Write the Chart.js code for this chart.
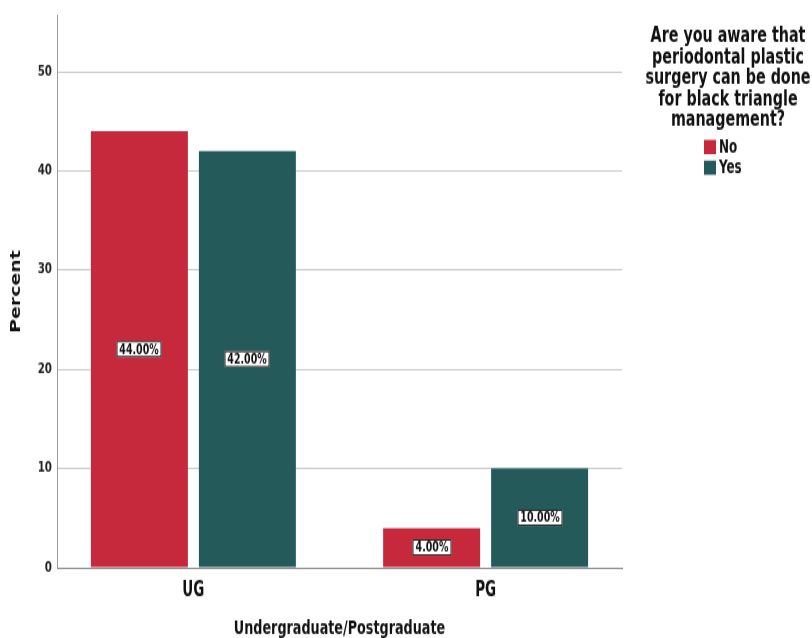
<!DOCTYPE html>
<html>
<head>
<meta charset="utf-8">
<script src="https://cdn.jsdelivr.net/npm/chart.js@4.4.0/dist/chart.umd.min.js"></script>
<style>
  html, body { margin: 0; padding: 0; background: #fff; }
  #wrap { width: 812px; height: 638px; }
  /* the chart is laid out at 812x472 and stretched to fill 638px of height */
  #chart { display: block; transform: scaleY(1.35169); transform-origin: 0 0; }
</style>
</head>
<body>
<div id="wrap"><canvas id="chart" width="812" height="472"></canvas></div>
<script>
// Awareness of periodontal plastic surgery, UG vs PG (percent)
const categories = ['UG', 'PG'];
const seriesNames = ['No', 'Yes'];
const noValues = [44.0, 4.0];
const yesValues = [42.0, 10.0];
const yTicks = [0, 10, 20, 30, 40, 50];
const legendTitle = ['Are you aware that', 'periodontal plastic', 'surgery can be done', 'for black triangle', 'management?'];

const RED = '#c6283c';
const TEAL = '#245a59';
const COND = "'DejaVu Sans Condensed', 'DejaVu Sans', sans-serif";
const SANS = "'DejaVu Sans', sans-serif";

// white boxed value labels in the middle of each bar
const barLabels = {
  id: 'barLabels',
  afterDatasetsDraw(chart) {
    const ctx = chart.ctx;
    ctx.save();
    ctx.font = `bold 10.5px ${COND}`;
    ctx.textAlign = 'center';
    ctx.textBaseline = 'middle';
    chart.data.datasets.forEach((ds, i) => {
      const meta = chart.getDatasetMeta(i);
      meta.data.forEach((bar, j) => {
        const text = meta.controller.getParsed(j).y.toFixed(2) + '%';
        const cx = Math.round(bar.x);
        const cy = (bar.y + bar.base) / 2;
        const w = Math.round(ctx.measureText(text).width) + 6;
        const h = 12;
        ctx.fillStyle = '#fff';
        ctx.fillRect(cx - w / 2, cy - h / 2, w, h);
        ctx.strokeStyle = '#111';
        ctx.lineWidth = 0.9;
        ctx.strokeRect(cx - w / 2 + 0.5, cy - h / 2 + 0.5, w - 1, h - 1);
        ctx.fillStyle = '#111';
        ctx.fillText(text, cx, cy + 0.5);
      });
    });
    ctx.restore();
  }
};

// legend on the right with a wrapped, centred title
const sideLegend = {
  id: 'sideLegend',
  afterDraw(chart) {
    const ctx = chart.ctx;
    ctx.save();
    ctx.fillStyle = '#111';
    ctx.textAlign = 'center';
    ctx.textBaseline = 'alphabetic';
    ctx.font = `bold 15.9px ${COND}`;
    legendTitle.forEach((line, i) => ctx.fillText(line, 728, 31.3 + i * 15.46));
    ctx.font = `bold 13.3px ${COND}`;
    ctx.textAlign = 'left';
    ctx.textBaseline = 'middle';
    chart.data.datasets.forEach((ds, i) => {
      const y = 108.7 + i * 15.3;
      ctx.fillStyle = ds.backgroundColor;
      ctx.fillRect(704, y - 5.2, 12, 10.5);
      ctx.fillStyle = '#111';
      ctx.fillText(ds.label, 719, y + 0.5);
    });
    ctx.restore();
  }
};

const toPoints = values => values.map((v, i) => ({ x: i, y: v }));

new Chart(document.getElementById('chart'), {
  type: 'bar',
  data: {
    datasets: [
      { label: seriesNames[0], data: toPoints(noValues), backgroundColor: RED },
      { label: seriesNames[1], data: toPoints(yesValues), backgroundColor: TEAL }
    ]
  },
  options: {
    responsive: false,
    animation: false,
    devicePixelRatio: 1,
    layout: { padding: { top: 7, right: 190, left: 0, bottom: 0 } },
    categoryPercentage: 0.739,
    barPercentage: 0.898,
    plugins: {
      legend: { display: false },
      tooltip: { enabled: false }
    },
    scales: {
      x: {
        type: 'linear',
        offset: false,
        min: -0.4667,
        max: 1.4667,
        afterBuildTicks(scale) { scale.ticks = categories.map((c, i) => ({ value: i })); },
        grid: { display: false, drawTicks: false },
        border: { color: '#8c8c8c', width: 1 },
        ticks: {
          color: '#111',
          padding: 8,
          callback: v => categories[v],
          font: { family: COND, size: 15, weight: 'bold' }
        },
        title: {
          display: true,
          text: 'Undergraduate/Postgraduate',
          color: '#111',
          padding: { top: 0, bottom: 0 },
          font: { family: COND, size: 14.2, weight: 'bold', lineHeight: 1 }
        },
        afterFit(scale) { scale.height = 52; }
      },
      y: {
        min: 0,
        max: 55.7,
        afterBuildTicks(scale) { scale.ticks = yTicks.map(v => ({ value: v })); },
        grid: { color: '#c9c9c9', drawTicks: false },
        border: { color: '#9a9a9a', width: 1 },
        ticks: { color: '#222', padding: 5, font: { family: SANS, size: 10.3, weight: 'bold' } },
        title: {
          display: true,
          text: 'Percent',
          color: '#111',
          padding: { top: 7.6, bottom: 0 },
          font: { family: SANS, size: 14, weight: 'bold' }
        },
        afterFit(scale) { scale.width = 57; }
      }
    }
  },
  plugins: [barLabels, sideLegend]
});
</script>
</body>
</html>
